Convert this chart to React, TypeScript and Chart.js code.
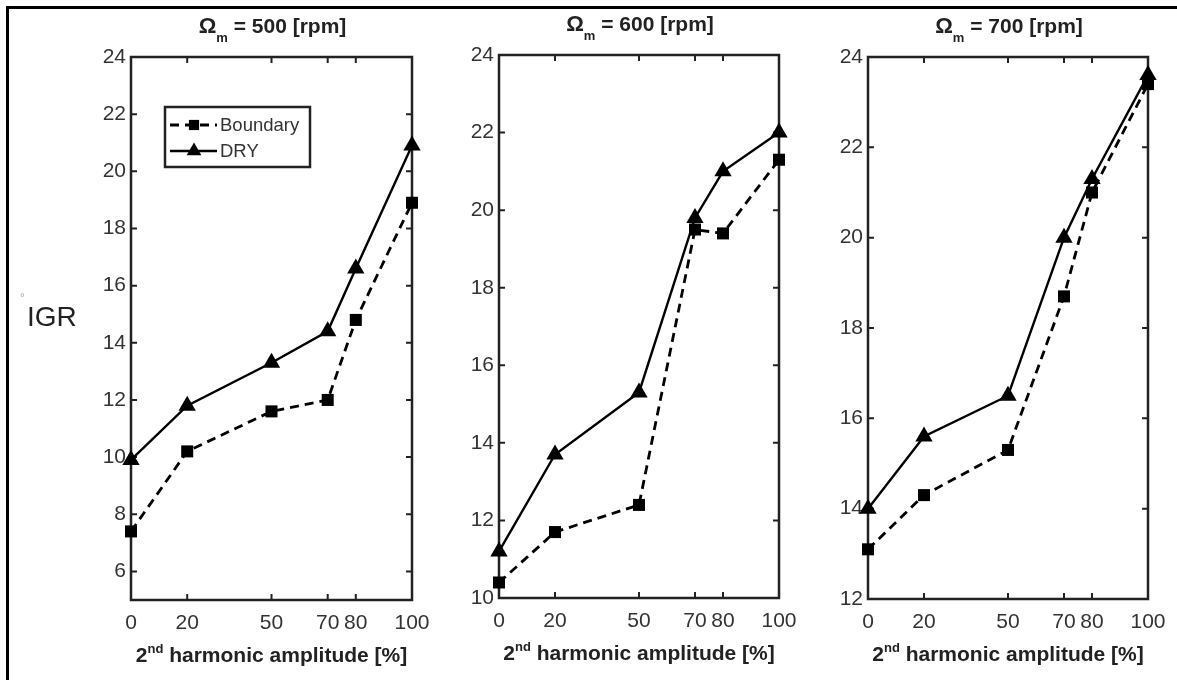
import React, { useEffect, useRef } from 'react';
import { Chart, registerables } from 'chart.js';

Chart.register(...registerables);

// ---------- data ----------
const xValues = [0, 20, 50, 70, 80, 100];
const xTicks = [0, 20, 50, 70, 80, 100];
const seriesLabels = ['Boundary', 'DRY'];
const speedLabels = ['500', '600', '700'];

const boundary500 = [7.4, 10.2, 11.6, 12.0, 14.8, 18.9];
const dry500 = [9.9, 11.8, 13.3, 14.4, 16.6, 20.9];
const boundary600 = [10.4, 11.7, 12.4, 19.5, 19.4, 21.3];
const dry600 = [11.2, 13.7, 15.3, 19.8, 21.0, 22.0];
const boundary700 = [13.1, 14.3, 15.3, 18.7, 21.0, 23.4];
const dry700 = [14.0, 15.6, 16.5, 20.0, 21.3, 23.6];

const yTicks500 = [6, 8, 10, 12, 14, 16, 18, 20, 22, 24];
const yTicks600 = [10, 12, 14, 16, 18, 20, 22, 24];
const yTicks700 = [12, 14, 16, 18, 20, 22, 24];
const yMins = [5, 10, 12];
const yMax = 24;

const yAxisTitle = 'IGR';
const xAxisTitleParts = ['2', 'nd', ' harmonic amplitude [%]'];
const titlePrefix = ['\u03A9', 'm'];
const titleUnit = '[rpm]';

// ---------- layout / style ----------
const FONT = '"Liberation Sans", Arial, Helvetica, sans-serif';
const INK = '#222';
const TICK_COLOR = '#333';

type PanelLayout = {
  left: number;
  width: number;
  padTop: number;
  padRight: number;
  padBottom: number;
  yWidth: number;
};

const layouts: PanelLayout[] = [
  { left: 0, width: 450, padTop: 57, padRight: 38, padBottom: 40, yWidth: 131 },
  { left: 440, width: 380, padTop: 55, padRight: 41, padBottom: 42, yWidth: 59 },
  { left: 800, width: 377, padTop: 57, padRight: 29, padBottom: 41, yWidth: 68 },
];

const panelData = [
  { boundary: boundary500, dry: dry500, yTicks: yTicks500 },
  { boundary: boundary600, dry: dry600, yTicks: yTicks600 },
  { boundary: boundary700, dry: dry700, yTicks: yTicks700 },
];

type Part = { text: string; font: string; dy: number };

function measureParts(ctx: CanvasRenderingContext2D, parts: Part[]) {
  let w = 0;
  for (const p of parts) {
    ctx.font = p.font;
    w += ctx.measureText(p.text).width;
  }
  return w;
}

function drawParts(ctx: CanvasRenderingContext2D, parts: Part[], cx: number, baseline: number) {
  const total = measureParts(ctx, parts);
  let x = cx - total / 2;
  ctx.textAlign = 'left';
  ctx.textBaseline = 'alphabetic';
  for (const p of parts) {
    ctx.font = p.font;
    ctx.fillText(p.text, x, baseline + p.dy);
    x += ctx.measureText(p.text).width;
  }
}

function drawMarker(ctx: CanvasRenderingContext2D, style: string, r: number, x: number, y: number) {
  ctx.beginPath();
  if (style === 'rect') {
    const s = Math.SQRT1_2 * r;
    ctx.rect(x - s, y - s, 2 * s, 2 * s);
  } else {
    const a = (2 * Math.PI) / 3;
    ctx.moveTo(x, y - r);
    ctx.lineTo(x + Math.sin(a) * r, y - Math.cos(a) * r);
    ctx.lineTo(x + Math.sin(2 * a) * r, y - Math.cos(2 * a) * r);
    ctx.closePath();
  }
  ctx.fill();
}

const framePlugin = {
  id: 'matlabFrame',
  beforeDatasetsDraw(chart: any) {
    const { ctx, chartArea } = chart;
    const { left, right, top, bottom } = chartArea;
    const xs = chart.scales.x;
    const ys = chart.scales.y;
    ctx.save();
    ctx.strokeStyle = INK;
    ctx.lineWidth = 2.5;
    ctx.strokeRect(left, top, right - left, bottom - top);
    ctx.lineWidth = 2;
    const tl = 6;
    ctx.beginPath();
    xs.ticks.forEach((t: any) => {
      const px = xs.getPixelForValue(t.value);
      ctx.moveTo(px, bottom);
      ctx.lineTo(px, bottom - tl);
      ctx.moveTo(px, top);
      ctx.lineTo(px, top + tl);
    });
    ys.ticks.forEach((t: any) => {
      const py = ys.getPixelForValue(t.value);
      ctx.moveTo(left, py);
      ctx.lineTo(left + tl, py);
      ctx.moveTo(right, py);
      ctx.lineTo(right - tl, py);
    });
    ctx.stroke();
    ctx.restore();
  },
};

function makeTextPlugin(panelIndex: number) {
  return {
    id: 'panelText' + panelIndex,
    afterDraw(chart: any) {
      const { ctx, chartArea } = chart;
      const { left, right, top, bottom } = chartArea;
      const cx = (left + right) / 2;
      ctx.save();
      ctx.fillStyle = INK;
      // title
      const titleParts: Part[] = [
        { text: titlePrefix[0], font: `bold 22px ${FONT}`, dy: 0 },
        { text: titlePrefix[1], font: `bold 13px ${FONT}`, dy: 9 },
        { text: ` = ${speedLabels[panelIndex]} ${titleUnit}`, font: `bold 21px ${FONT}`, dy: 0 },
      ];
      drawParts(ctx, titleParts, cx + 1, top - 24);
      // x axis title
      const xParts: Part[] = [
        { text: xAxisTitleParts[0], font: `bold 21px ${FONT}`, dy: 0 },
        { text: xAxisTitleParts[1], font: `bold 13px ${FONT}`, dy: -9 },
        { text: xAxisTitleParts[2], font: `bold 21px ${FONT}`, dy: 0 },
      ];
      drawParts(ctx, xParts, cx, bottom + 62);

      if (panelIndex === 0) {
        // y axis title
        ctx.font = `28px ${FONT}`;
        ctx.textAlign = 'left';
        ctx.textBaseline = 'alphabetic';
        ctx.fillText(yAxisTitle, 27, 326);
        ctx.fillStyle = '#aaa';
        ctx.font = `12px ${FONT}`;
        ctx.fillText('\u00B0', 20, 302);

        // legend
        const bx = left + 34;
        const by = top + 50;
        const bw = 145;
        const bh = 60;
        ctx.fillStyle = '#fff';
        ctx.fillRect(bx, by, bw, bh);
        ctx.strokeStyle = INK;
        ctx.lineWidth = 2.5;
        ctx.strokeRect(bx, by, bw, bh);
        const rows = [by + 18, by + 44];
        chart.data.datasets.forEach((ds: any, i: number) => {
          const ry = rows[i];
          ctx.save();
          ctx.strokeStyle = ds.borderColor;
          ctx.lineWidth = ds.borderWidth;
          ctx.setLineDash(ds.borderDash || []);
          ctx.beginPath();
          ctx.moveTo(bx + 5, ry);
          ctx.lineTo(bx + 52, ry);
          ctx.stroke();
          ctx.restore();
          ctx.fillStyle = '#000';
          drawMarker(ctx, ds.pointStyle, ds.pointRadius * 0.85, bx + 29, ry);
          ctx.fillStyle = TICK_COLOR;
          ctx.font = `18.5px ${FONT}`;
          ctx.textAlign = 'left';
          ctx.textBaseline = 'middle';
          ctx.fillText(ds.label, bx + 55, ry + 1);
        });
      }
      ctx.restore();
    },
  };
}

function Panel({ index }: { index: number }) {
  const ref = useRef<HTMLCanvasElement | null>(null);
  const lay = layouts[index];
  const pd = panelData[index];

  useEffect(() => {
    if (!ref.current) return;
    const chart = new Chart(ref.current, {
      type: 'scatter',
      data: {
        datasets: [
          {
            label: seriesLabels[0],
            data: xValues.map((x, i) => ({ x, y: pd.boundary[i] })),
            showLine: true,
            borderColor: '#000',
            backgroundColor: '#000',
            borderWidth: 2.8,
            borderDash: [9, 6],
            pointStyle: 'rect',
            pointRadius: 8.5,
            pointBorderWidth: 0,
            pointBackgroundColor: '#000',
            tension: 0,
            clip: false,
          } as any,
          {
            label: seriesLabels[1],
            data: xValues.map((x, i) => ({ x, y: pd.dry[i] })),
            showLine: true,
            borderColor: '#000',
            backgroundColor: '#000',
            borderWidth: 2.4,
            pointStyle: 'triangle',
            pointRadius: 10,
            pointBorderWidth: 0,
            pointBackgroundColor: '#000',
            tension: 0,
            clip: false,
          } as any,
        ],
      },
      options: {
        responsive: false,
        animation: false,
        devicePixelRatio: 1,
        layout: {
          padding: { left: 0, right: lay.padRight, top: lay.padTop, bottom: lay.padBottom },
        },
        plugins: {
          legend: { display: false },
          tooltip: { enabled: false },
          title: { display: false },
        },
        scales: {
          x: {
            type: 'linear',
            min: 0,
            max: 100,
            afterBuildTicks: (s: any) => {
              s.ticks = xTicks.map((v) => ({ value: v }));
            },
            afterFit: (s: any) => {
              s.height = 40;
            },
            grid: { display: false, drawTicks: false },
            border: { display: false },
            ticks: {
              color: TICK_COLOR,
              font: { family: FONT, size: 21 },
              padding: 11,
              maxRotation: 0,
              autoSkip: false,
            },
          },
          y: {
            type: 'linear',
            min: yMins[index],
            max: yMax,
            afterBuildTicks: (s: any) => {
              s.ticks = pd.yTicks.map((v) => ({ value: v }));
            },
            afterFit: (s: any) => {
              s.width = lay.yWidth;
            },
            grid: { display: false, drawTicks: false },
            border: { display: false },
            ticks: {
              color: TICK_COLOR,
              font: { family: FONT, size: 21 },
              padding: 5,
              autoSkip: false,
            },
          },
        },
      },
      plugins: [framePlugin, makeTextPlugin(index)],
    } as any);
    return () => chart.destroy();
  }, []);

  return (
    <canvas
      ref={ref}
      width={lay.width}
      height={680}
      style={{
        position: 'absolute',
        left: lay.left,
        top: 0,
        width: lay.width + 'px',
        height: '680px',
      }}
    />
  );
}

export default function App() {
  return (
    <div
      style={{
        position: 'absolute',
        left: 0,
        top: 0,
        width: 1177,
        height: 680,
        overflow: 'hidden',
        background: '#fff',
      }}
    >
      <Panel index={0} />
      <Panel index={1} />
      <Panel index={2} />
      <div style={{ position: 'absolute', left: 6, top: 6, width: 1171, height: 3, background: '#000' }} />
      <div style={{ position: 'absolute', left: 6, top: 6, width: 3, height: 674, background: '#000' }} />
    </div>
  );
}
